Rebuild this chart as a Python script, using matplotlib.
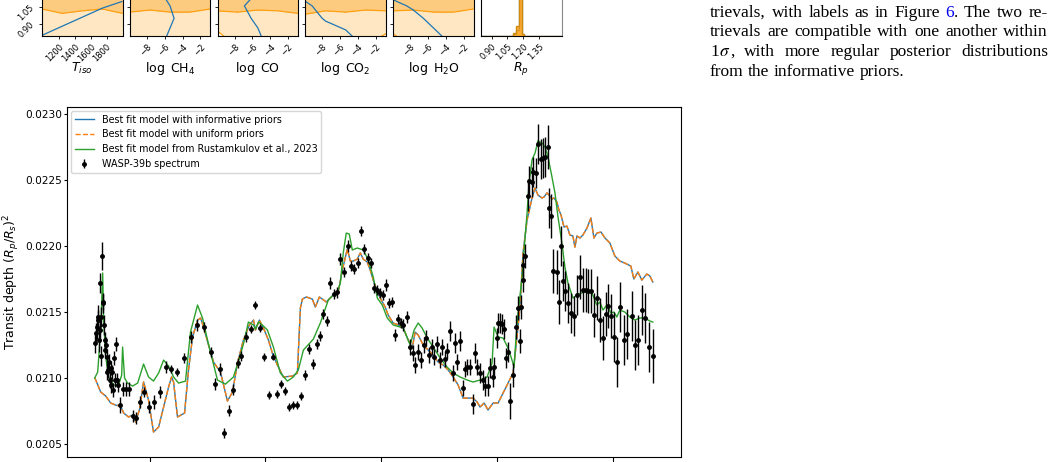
import numpy as np
import matplotlib
matplotlib.use("Agg")
import matplotlib.pyplot as plt

# ---------------- WASP-39b spectrum (wavelength in micron, depth in ppm) ----------------
wavelength = [
    0.528, 0.539, 0.543, 0.552, 0.558, 0.563, 0.569, 0.573, 0.578, 0.582,
    0.588, 0.595, 0.601, 0.606, 0.612, 0.618, 0.625, 0.629, 0.634, 0.641,
    0.647, 0.655, 0.664, 0.670, 0.677, 0.681, 0.690, 0.698, 0.707, 0.716,
    0.724, 0.744, 0.767, 0.793, 0.819, 0.856, 0.879, 0.916, 0.948, 0.994,
    1.037, 1.086, 1.138, 1.187, 1.239, 1.296, 1.359, 1.411, 1.474, 1.526,
    1.563, 1.606, 1.641, 1.684, 1.722, 1.763, 1.793, 1.836, 1.877, 1.914,
    1.951, 1.991, 2.028, 2.063, 2.101, 2.135, 2.172, 2.204, 2.239, 2.273,
    2.308, 2.341, 2.373, 2.408, 2.442, 2.468, 2.500, 2.530, 2.560, 2.592,
    2.621, 2.647, 2.681, 2.711, 2.739, 2.767, 2.796, 2.823, 2.853, 2.882,
    2.911, 2.934, 2.963, 2.991, 3.015, 3.043, 3.063, 3.092, 3.121, 3.144,
    3.170, 3.192, 3.222, 3.244, 3.270, 3.293, 3.316, 3.339, 3.365, 3.388,
    3.411, 3.437, 3.459, 3.483, 3.503, 3.528, 3.552, 3.572, 3.595, 3.618,
    3.638, 3.658, 3.681, 3.704, 3.727, 3.744, 3.767, 3.791, 3.810, 3.830,
    3.853, 3.877, 3.899, 3.920, 3.940, 3.963, 3.974, 3.997, 4.011, 4.026,
    4.046, 4.060, 4.075, 4.097, 4.112, 4.135, 4.164, 4.184, 4.194, 4.207,
    4.222, 4.227, 4.244, 4.265, 4.279, 4.299, 4.313, 4.336, 4.356, 4.377,
    4.394, 4.414, 4.437, 4.448, 4.466, 4.483, 4.515, 4.532, 4.552, 4.566,
    4.589, 4.615, 4.638, 4.666, 4.692, 4.716, 4.739, 4.765, 4.789, 4.810,
    4.839, 4.866, 4.888, 4.916, 4.940, 4.959, 4.983, 5.009, 5.032, 5.060,
    5.095, 5.123, 5.161, 5.187, 5.213, 5.247, 5.276, 5.310, 5.347,
]
depth_ppm = [
    21267, 21341, 21389, 21439, 21464, 21288, 21717, 21364, 21464, 21167,
    21927, 21568, 21578, 21402, 21288, 21212, 21250, 21161, 21045, 21061,
    21121, 20985, 20947, 21076, 21045, 20909, 21152, 20985, 21258, 20985,
    20947, 20795, 20917, 20917, 20917, 20714, 20697, 20820, 20894, 20778,
    20820, 20896, 21086, 21066, 21048, 21154, 21313, 21402, 21389, 21197,
    20954, 21066, 20581, 20754, 20913, 21111, 21170, 21313, 21374, 21553,
    21379, 21161, 20875, 21163, 20877, 20957, 20902, 20783, 20795, 20798,
    20864, 21023, 21220, 21106, 21261, 21318, 21486, 21434, 21720, 21640,
    21648, 21899, 21805, 22000, 21846, 21824, 21869, 22114, 21975, 21907,
    21869, 21680, 21667, 21646, 21629, 21705, 21566, 21578, 21326, 21445,
    21419, 21402, 21460, 21233, 21187, 21099, 21199, 21136, 21250, 21301,
    21174, 21237, 21161, 21255, 21136, 21237, 21142, 21205, 21358, 21036,
    21263, 21124, 21283, 20922, 21066, 21081, 21081, 20803, 21192, 21086,
    21040, 20985, 20939, 20939, 21073, 21005, 21086, 21301, 21419, 21414,
    21409, 21369, 21149, 21199, 20826, 21023, 21384, 21528, 21280, 21540,
    21742, 21856, 21927, 22379, 22495, 22487, 22558, 22551, 22773, 22659,
    22669, 22677, 22748, 22286, 22227, 21811, 21803, 21578, 22000, 21735,
    21659, 21570, 21495, 21470, 21629, 21765, 21667, 21667, 21659, 21659,
    21477, 21606, 21439, 21303, 21485, 21545, 21470, 21311, 21121, 21538,
    21288, 21333, 21470, 21250, 21288, 21515, 21455, 21235, 21167,
]
error_ppm = [
    76, 76, 91, 76, 91, 91, 76, 91, 76, 76,
    106, 76, 61, 76, 61, 61, 61, 61, 61, 61,
    61, 61, 61, 53, 53, 53, 53, 53, 53, 53,
    53, 61, 53, 53, 53, 45, 45, 45, 38, 45,
    53, 45, 45, 30, 30, 38, 45, 45, 38, 38,
    45, 45, 38, 45, 45, 38, 38, 38, 30, 30,
    30, 30, 30, 30, 30, 30, 30, 30, 30, 30,
    30, 38, 38, 38, 38, 38, 38, 38, 45, 38,
    38, 45, 38, 45, 38, 38, 38, 38, 38, 38,
    38, 38, 38, 38, 38, 45, 38, 38, 45, 38,
    38, 45, 45, 61, 61, 61, 61, 61, 61, 61,
    61, 61, 61, 61, 61, 61, 61, 61, 76, 61,
    76, 61, 76, 61, 61, 61, 61, 76, 76, 61,
    76, 76, 76, 76, 76, 76, 76, 76, 76, 76,
    76, 76, 76, 76, 136, 91, 91, 91, 91, 91,
    91, 91, 91, 114, 114, 114, 114, 114, 152, 152,
    152, 152, 167, 152, 167, 167, 167, 167, 152, 152,
    152, 152, 152, 152, 152, 167, 167, 167, 167, 167,
    167, 167, 167, 167, 167, 167, 167, 189, 189, 189,
    189, 189, 189, 189, 189, 189, 189, 189, 205,
]

# ---------------- best fit models (ppm) ----------------
model_wl = [
    0.528, 0.578, 0.621, 0.664, 0.707, 0.750, 0.776, 0.819, 0.853, 0.879,
    0.914, 0.948, 0.991, 1.034, 1.078, 1.121, 1.164, 1.190, 1.207, 1.241,
    1.302, 1.336, 1.371, 1.414, 1.440, 1.466, 1.509, 1.552, 1.612, 1.672,
    1.716, 1.759, 1.810, 1.862, 1.897, 1.914, 1.948, 1.983, 2.026, 2.060,
    2.103, 2.155, 2.233, 2.276, 2.302, 2.319, 2.353, 2.405, 2.431, 2.466,
    2.526, 2.586, 2.629, 2.664, 2.707, 2.733, 2.759, 2.793, 2.819, 2.845,
    2.879, 2.905, 2.931, 2.966, 2.991, 3.034, 3.060, 3.103, 3.147, 3.190,
    3.233, 3.267, 3.293, 3.319, 3.362, 3.405, 3.448, 3.491, 3.534, 3.578,
    3.621, 3.664, 3.707, 3.750, 3.793, 3.828, 3.853, 3.888, 3.922, 3.966,
    4.009, 4.052, 4.095, 4.138, 4.172, 4.198, 4.224, 4.259, 4.302, 4.328,
    4.353, 4.388, 4.405, 4.431, 4.448, 4.474, 4.491, 4.517, 4.534, 4.552,
    4.578, 4.603, 4.629, 4.655, 4.672, 4.690, 4.716, 4.741, 4.776, 4.810,
    4.836, 4.862, 4.897, 4.931, 4.974, 5.017, 5.060, 5.103, 5.155, 5.181,
    5.216, 5.250, 5.293, 5.319, 5.345,
]
informative_ppm = [
    21000, 20894, 20864, 20811, 20795, 20788, 20735, 20705, 20720, 20667,
    20765, 20970, 20833, 20591, 20629, 20780, 20932, 21008, 20970, 20705,
    20735, 21061, 21311, 21439, 21455, 21386, 21250, 21121, 21045, 20826,
    20894, 21114, 21288, 21402, 21439, 21364, 21439, 21379, 21288, 21189,
    21099, 21008, 21015, 21038, 21530, 21598, 21614, 21598, 21538, 21614,
    21576, 21629, 21651, 21818, 21977, 21886, 21886, 21901, 21947, 21901,
    21879, 21818, 21742, 21651, 21606, 21538, 21477, 21417, 21402, 21379,
    21288, 21227, 21348, 21326, 21250, 21212, 21174, 21121, 21099, 21061,
    21008, 20947, 20848, 20848, 20848, 20818, 20780, 20811, 20758, 20811,
    20811, 20886, 20962, 21038, 21311, 21538, 21947, 22197, 22364, 22439,
    22386, 22364, 22371, 22402, 22386, 22356, 22364, 22333, 22273, 22235,
    22144, 22151, 22083, 22076, 21992, 22076, 22061, 22083, 22136, 22212,
    22061, 22098, 22106, 22061, 22023, 21924, 21886, 21871, 21848, 21750,
    21803, 21742, 21788, 21773, 21727,
]
# the uniform-prior fit sits on top of the informative one at this scale
uniform_ppm = list(informative_ppm)

rustamkulov_wl = [
    0.526, 0.552, 0.578, 0.595, 0.603, 0.621, 0.647, 0.690, 0.733, 0.759,
    0.767, 0.784, 0.810, 0.853, 0.897, 0.948, 0.991, 1.034, 1.078, 1.121,
    1.164, 1.207, 1.250, 1.310, 1.353, 1.414, 1.457, 1.500, 1.543, 1.586,
    1.655, 1.724, 1.784, 1.819, 1.853, 1.897, 1.914, 1.940, 1.983, 2.017,
    2.069, 2.129, 2.190, 2.241, 2.284, 2.328, 2.414, 2.474, 2.543, 2.586,
    2.621, 2.647, 2.672, 2.698, 2.724, 2.750, 2.793, 2.845, 2.888, 2.931,
    2.966, 3.009, 3.052, 3.103, 3.190, 3.250, 3.284, 3.319, 3.353, 3.397,
    3.448, 3.509, 3.569, 3.621, 3.681, 3.741, 3.793, 3.853, 3.914, 3.957,
    3.974, 4.009, 4.052, 4.095, 4.129, 4.147, 4.164, 4.181, 4.216, 4.233,
    4.259, 4.276, 4.302, 4.328, 4.353, 4.388, 4.414, 4.440, 4.474, 4.500,
    4.526, 4.560, 4.586, 4.612, 4.655, 4.698, 4.759, 4.819, 4.862, 4.888,
    4.914, 4.948, 4.983, 5.009, 5.034, 5.060, 5.103, 5.147, 5.190, 5.233,
    5.276, 5.319, 5.345,
]
rustamkulov_ppm = [
    21000, 21045, 21364, 21796, 21439, 21159, 21008, 20947, 20947, 21023,
    21235, 21000, 20962, 20939, 20962, 21106, 21008, 20977, 21038, 21136,
    21091, 21008, 20962, 20977, 21348, 21553, 21455, 21288, 21136, 20985,
    20954, 21008, 21174, 21288, 21424, 21402, 21371, 21424, 21394, 21364,
    21235, 21038, 20977, 21008, 21061, 21212, 21295, 21417, 21591, 21629,
    21651, 21720, 21947, 22098, 22091, 21970, 21985, 21970, 21894, 21765,
    21606, 21553, 21455, 21402, 21379, 21250, 21364, 21417, 21379, 21303,
    21235, 21152, 21083, 21038, 21008, 20985, 20970, 20985, 21008, 21114,
    21386, 21311, 21303, 21227, 21136, 21083, 21311, 21492, 21765, 21970,
    22250, 22477, 22652, 22705, 22796, 22780, 22750, 22674, 22523, 22402,
    22220, 22023, 21841, 21720, 21606, 21636, 21651, 21644, 21553, 21576,
    21515, 21553, 21492, 21500, 21462, 21515, 21500, 21462, 21439, 21455,
    21455, 21432, 21424,
]

# ---------------- corner fragment (bottom row of the posterior plot) ----------------
corner_labels = [r"$T_{iso}$", r"$\log\ \mathrm{CH_4}$", r"$\log\ \mathrm{CO}$",
                 r"$\log\ \mathrm{CO_2}$", r"$\log\ \mathrm{H_2O}$", r"$R_p$"]
corner_xlims = [(990, 2000), (-9.9, -0.9), (-9.9, -0.9), (-9.9, -0.9), (-9.9, -0.9), (0.80, 1.56)]
corner_xticks = [[1200, 1400, 1600, 1800], [-8, -6, -4, -2], [-8, -6, -4, -2],
                 [-8, -6, -4, -2], [-8, -6, -4, -2], [0.90, 1.05, 1.20, 1.35]]
grid_rp = [0.78, 0.95, 1.06, 1.14]
# uniform prior posterior (orange), rows follow grid_rp
uniform_post = [
    [[0.35, 0.40, 0.35, 0.40, 0.35], [0.40, 0.45, 0.40, 0.40, 0.45],
     [0.60, 0.70, 0.65, 0.60, 0.70], [0.85, 0.90, 0.85, 0.90, 0.85]],
    [[0.35, 0.40, 0.30, 0.40, 0.35], [0.40, 0.45, 0.45, 0.40, 0.40],
     [0.70, 0.60, 0.65, 0.70, 0.60], [0.90, 0.85, 0.90, 0.85, 0.90]],
    [[0.10, 0.35, 0.40, 0.35, 0.40], [0.40, 0.40, 0.45, 0.40, 0.45],
     [0.65, 0.70, 0.60, 0.65, 0.70], [0.85, 0.90, 0.90, 0.85, 0.90]],
    [[0.40, 0.35, 0.40, 0.30, 0.15], [0.45, 0.40, 0.40, 0.45, 0.40],
     [0.75, 0.65, 0.70, 0.60, 0.65], [0.90, 0.85, 0.90, 0.90, 0.85]],
    [[0.15, 0.35, 0.40, 0.30, 0.35], [0.40, 0.45, 0.40, 0.45, 0.40],
     [0.65, 0.60, 0.70, 0.65, 0.60], [0.90, 0.90, 0.85, 0.90, 0.90]],
]
# informative prior posterior (blue)
informative_post = [
    [[0.44, 0.20, -0.04, -0.28, -0.46], [0.95, 0.71, 0.47, 0.23, 0.05],
     [1.28, 1.04, 0.80, 0.56, 0.38], [1.52, 1.28, 1.04, 0.80, 0.62]],
    [[0.90, 0.70, 0.45, 0.30, 0.20], [0.90, 0.65, 0.55, 0.30, 0.20],
     [0.90, 0.70, 0.50, 0.30, 0.20], [0.90, 0.75, 0.40, 0.30, 0.20]],
    [[0.90, 0.65, 0.55, 0.30, 0.20], [0.85, 0.60, 0.45, 0.30, 0.20],
     [0.90, 0.55, 0.40, 0.30, 0.20], [0.90, 0.65, 0.45, 0.35, 0.20]],
    [[0.90, 0.80, 0.60, 0.35, 0.20], [0.75, 0.45, 0.35, 0.25, 0.20],
     [0.55, 0.40, 0.30, 0.25, 0.20], [0.45, 0.35, 0.30, 0.25, 0.20]],
    [[0.90, 0.80, 0.60, 0.40, 0.25], [0.80, 0.60, 0.40, 0.30, 0.20],
     [0.60, 0.45, 0.35, 0.25, 0.20], [0.45, 0.40, 0.30, 0.25, 0.20]],
]
rp_edges = [0.80, 1.105, 1.13, 1.155, 1.17, 1.185, 1.21, 1.56]
rp_counts_uniform = [0, 4, 12, 300, 300, 3, 0]
rp_counts_informative = [0, 2, 8, 300, 300, 2, 0]

# ---------------- paragraph on the right ----------------
para_lines = [
    ["trievals,", "with", "labels", "as", "in", "Figure", "6.", "The", "two", "re-"],
    ["trievals", "are", "compatible", "with", "one", "another", "within"],
    ["1σ,", "with", "more", "regular", "posterior", "distributions"],
    ["from", "the", "informative", "priors."],
]

W, H = 1055, 462
fig = plt.figure(figsize=(W / 100, H / 100), dpi=100)

ORANGE = "#ff9f10"
FILL = ["#fee7c2", "#fdcb80"]
BLUE = "#1f77b4"

for i in range(6):
    left = (42 + i * 87.8) / W
    axc = fig.add_axes([left, 1 - 36 / H, 80.5 / W, 80 / H])
    x0, x1 = corner_xlims[i]
    if i < 5:
        gx = np.linspace(x0, x1, 5)
        u = np.array(uniform_post[i])
        b = np.array(informative_post[i])
        axc.contourf(gx, grid_rp, u, levels=[0.2, 0.55, 5], colors=FILL)
        axc.contour(gx, grid_rp, u, levels=[0.2, 0.55], colors=ORANGE, linewidths=0.9)
        axc.contour(gx, grid_rp, b, levels=[0.5], colors=BLUE, linewidths=0.9)
        axc.set_ylim(0.794, 1.50)
        axc.set_yticks([0.90, 1.05])
        if i == 0:
            axc.set_yticklabels(["0.90", "1.05"], rotation=45, fontsize=6)
        else:
            axc.set_yticklabels([])
    else:
        axc.stairs(rp_counts_informative, rp_edges, color=BLUE, lw=0.9)
        axc.stairs(rp_counts_uniform, rp_edges, color=ORANGE, lw=1.6, fill=True, alpha=0.85)
        axc.stairs(rp_counts_uniform, rp_edges, color="#d08a10", lw=1.0)
        axc.set_ylim(0, 100)
        axc.set_yticks([])
        for s in ["top", "right"]:
            axc.spines[s].set_color("#888888")
    axc.set_xlim(x0, x1)
    axc.set_xticks(corner_xticks[i])
    if i == 5:
        axc.set_xticklabels(["0.90", "1.05", "1.20", "1.35"])
    plt.setp(axc.get_xticklabels(), rotation=45, ha="right", rotation_mode="anchor", fontsize=6)
    axc.tick_params(length=2.5, width=0.6, pad=2)
    axc.text(0.5, -0.41, corner_labels[i], transform=axc.transAxes, ha="center", va="center", fontsize=9)

# main chart
ax = fig.add_axes([67 / W, 1 - 457 / H, 614 / W, 350 / H])
ax.plot(model_wl, np.array(informative_ppm) * 1e-6, color="C0", lw=1.0,
        label="Best fit model with informative priors")
ax.plot(model_wl, np.array(uniform_ppm) * 1e-6, color="C1", lw=1.0, ls="--",
        label="Best fit model with uniform priors")
ax.plot(rustamkulov_wl, np.array(rustamkulov_ppm) * 1e-6, color="C2", lw=1.0,
        label="Best fit model from Rustamkulov et al., 2023")
ax.errorbar(wavelength, np.array(depth_ppm) * 1e-6, yerr=np.array(error_ppm) * 1e-6,
            fmt="o", color="k", ms=2.5, elinewidth=1.0, capsize=0, label="WASP-39b spectrum")
ax.set_xlim(0.287, 5.588)
ax.set_ylim(0.020402, 0.023053)
# wavelength tick labels fall below the cropped page, only the marks show
ax.set_xticks([1, 2, 3, 4, 5])
ax.set_xticklabels([])
ax.set_yticks([0.0205, 0.0210, 0.0215, 0.0220, 0.0225, 0.0230])
ax.set_yticklabels(["0.0205", "0.0210", "0.0215", "0.0220", "0.0225", "0.0230"])
ax.tick_params(labelsize=7.6)
ax.tick_params(axis="y", length=2.5, pad=1.2)
ax.set_ylabel(r"Transit depth $(R_p/R_s)^2$", fontsize=9.0)
ax.yaxis.set_label_coords(-0.074, 0.5)
ax.legend(loc="upper left", fontsize=6.9, borderaxespad=0.4)

# justified paragraph
renderer = fig.canvas.get_renderer()
x_left, x_right = 710 / W, 1048 / W
baselines = [16.7, 36.3, 56.0, 75.7]
fsize = 12.5
for n, words in enumerate(para_lines):
    y = 1 - baselines[n] / H
    items = []
    for w in words:
        if w == "6.":
            segs = [("6", "#0000ee"), (".", "black")]
        elif w == "1σ,":
            segs = [("1", "black"), (r"$\sigma$", "black"), (",", "black")]
        else:
            segs = [(w, "black")]
        texts = [fig.text(0, y, s, color=c, fontsize=fsize, family="Liberation Serif",
                          math_fontfamily="stix", va="baseline") for s, c in segs]
        widths = [t.get_window_extent(renderer).width / W for t in texts]
        items.append((texts, widths))
    total = sum(sum(wd) for _, wd in items)
    if n < len(para_lines) - 1:
        gap = (x_right - x_left - total) / (len(items) - 1)
    else:
        gap = 0.25 * fsize * 100 / 72 / W
    x = x_left
    for texts, widths in items:
        for t, wd in zip(texts, widths):
            t.set_x(x)
            x += wd
        x += gap

fig.savefig("out.png", dpi=100)
